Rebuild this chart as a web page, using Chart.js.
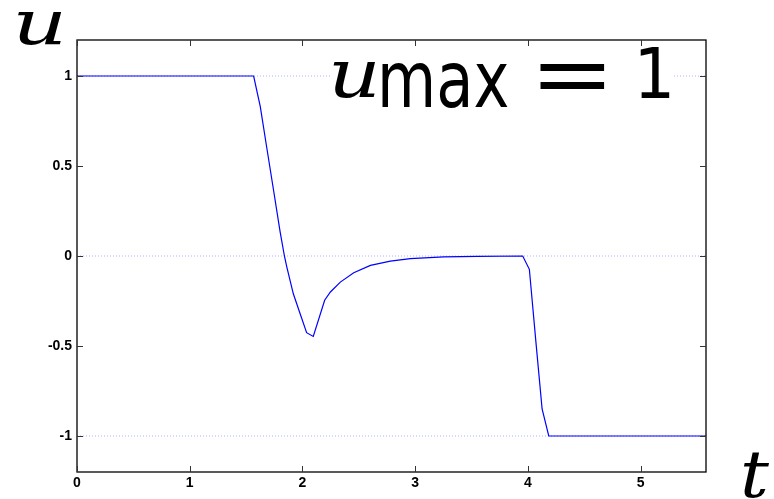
<!DOCTYPE html>
<html>
<head>
<meta charset="utf-8">
<script src="https://cdn.jsdelivr.net/npm/chart.js@4.4.1/dist/chart.umd.min.js"></script>
<style>
  html, body { margin: 0; padding: 0; background: #fff; }
  #wrap { width: 774px; height: 499px; }
</style>
</head>
<body>
<div id="wrap"><canvas id="uChart" width="774" height="499"></canvas></div>
<script>
// control signal u(t)
const tVals = [0, 1.567, 1.626, 1.685, 1.743, 1.802, 1.840, 1.861, 1.919, 1.978, 2.037, 2.096, 2.197, 2.248, 2.336, 2.455, 2.603, 2.780, 2.957, 3.253, 3.550, 3.954, 4.013, 4.070, 4.126, 4.185, 5.58];
const uVals = [1, 1, 0.83, 0.596, 0.368, 0.134, 0, -0.06, -0.21, -0.318, -0.426, -0.447, -0.246, -0.200, -0.145, -0.093, -0.052, -0.028, -0.015, -0.005, -0.002, 0, -0.074, -0.47, -0.85, -1, -1];

// dotted reference levels (u_max, 0, -u_max)
const refLevels = [1, 0, -1];

const xTicks = [0, 1, 2, 3, 4, 5];
const yTicks = [-1, -0.5, 0, 0.5, 1];
const xMin = 0, xMax = 5.58;
const yMin = -1.2, yMax = 1.2;

const curve = tVals.map((t, i) => ({ x: t, y: uVals[i] }));

const datasets = [{
    data: curve,
    borderColor: '#0000ff',
    borderWidth: 1.2,
    pointRadius: 0,
    tension: 0,
    fill: false
}];
refLevels.forEach(level => {
    datasets.push({
        data: [{ x: xMin, y: level }, { x: xMax, y: level }],
        borderColor: 'rgba(110, 110, 255, 0.55)',
        borderWidth: 1,
        borderDash: [1, 2],
        pointRadius: 0,
        fill: false
    });
});

// squeeze a piece of text into a given ink box
function fitBox(ctx, text, font, left, right, top, bottom) {
    ctx.save();
    ctx.font = font;
    ctx.textAlign = 'left';
    ctx.textBaseline = 'alphabetic';
    const m = ctx.measureText(text);
    const w = m.actualBoundingBoxLeft + m.actualBoundingBoxRight;
    const h = m.actualBoundingBoxAscent + m.actualBoundingBoxDescent;
    const sx = (right - left) / w;
    const sy = (bottom - top) / h;
    ctx.translate(left, top);
    ctx.scale(sx, sy);
    ctx.fillStyle = '#000';
    ctx.fillText(text, m.actualBoundingBoxLeft, m.actualBoundingBoxAscent);
    ctx.restore();
}

const framePlugin = {
    id: 'frame',
    afterDraw(chart) {
        const ctx = chart.ctx;
        const a = chart.chartArea;
        const xs = chart.scales.x, ys = chart.scales.y;
        ctx.save();
        ctx.strokeStyle = '#000';
        ctx.lineWidth = 1.3;
        ctx.strokeRect(a.left, a.top, a.right - a.left, a.bottom - a.top);
        ctx.lineWidth = 1;
        ctx.strokeStyle = '#333';
        ctx.beginPath();
        xTicks.forEach(v => {
            const px = Math.round(xs.getPixelForValue(v)) + 0.5;
            ctx.moveTo(px, a.bottom); ctx.lineTo(px, a.bottom - 6);
            ctx.moveTo(px, a.top); ctx.lineTo(px, a.top + 6);
        });
        yTicks.forEach(v => {
            const py = Math.round(ys.getPixelForValue(v)) + 0.5;
            ctx.moveTo(a.left, py); ctx.lineTo(a.left + 6, py);
            ctx.moveTo(a.right, py); ctx.lineTo(a.right - 6, py);
        });
        ctx.stroke();

        // u_max = 1 label, white box hides the dotted line
        ctx.fillStyle = '#fff';
        ctx.fillRect(331, 50, 342, 60);
        ctx.restore();

        fitBox(ctx, 'u', 'italic 80px "DejaVu Serif"', 333, 375, 62, 98);
        fitBox(ctx, 'max', '86px "DejaVu Sans"', 382, 508, 63, 108);
        fitBox(ctx, '=', 'bold 80px "Liberation Sans"', 540, 605, 65, 89);
        fitBox(ctx, '1', '70px "DejaVu Sans"', 640, 670, 48, 98);

        // axis names
        fitBox(ctx, 'u', 'italic 72px "DejaVu Serif"', 17, 62, 12, 45);
        fitBox(ctx, 't', 'italic 72px "DejaVu Serif"', 743, 770, 452, 498);
    }
};

const tickFont = { family: '"Liberation Sans", Arial, sans-serif', size: 14, weight: 'bold' };

new Chart(document.getElementById('uChart').getContext('2d'), {
    type: 'line',
    data: { datasets: datasets },
    options: {
        responsive: false,
        animation: false,
        layout: { padding: { left: 0, top: 40, right: 68, bottom: 0 } },
        plugins: { legend: { display: false }, tooltip: { enabled: false } },
        scales: {
            x: {
                type: 'linear',
                min: xMin,
                max: xMax,
                afterBuildTicks: s => { s.ticks = xTicks.map(v => ({ value: v })); },
                afterFit: s => { s.height = 27; },
                grid: { display: false, drawTicks: false },
                border: { display: false },
                ticks: { color: '#000', font: tickFont, padding: 3, maxRotation: 0, callback: v => String(v) }
            },
            y: {
                type: 'linear',
                min: yMin,
                max: yMax,
                afterBuildTicks: s => { s.ticks = yTicks.map(v => ({ value: v })); },
                afterFit: s => { s.width = 77; },
                grid: { display: false, drawTicks: false },
                border: { display: false },
                ticks: { color: '#000', font: tickFont, padding: 5, callback: v => String(v) }
            }
        }
    },
    plugins: [framePlugin]
});
</script>
</body>
</html>
